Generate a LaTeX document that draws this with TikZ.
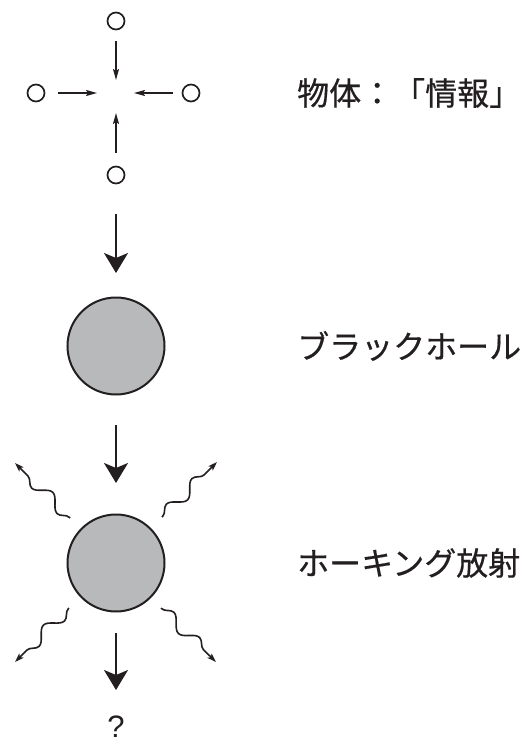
\documentclass[tikz,border=0pt]{standalone}
\usepackage{fontspec}
\newfontfamily\jp[FakeBold=0.5]{Noto Sans CJK JP}
\newfontfamily\qfont{Liberation Sans}
\usetikzlibrary{arrows.meta,decorations.pathmorphing}
\definecolor{bhgray}{HTML}{B8B9BB}
\definecolor{ink}{HTML}{231F20}
\begin{document}
\begin{tikzpicture}[x=1pt,y=-1pt,
  dot/.style={circle,draw=ink,line width=1.7pt,minimum size=17pt,inner sep=0pt},
  hole/.style={circle,draw=ink,fill=bhgray,line width=2pt,minimum size=97pt,inner sep=0pt},
  smallarr/.style={draw=ink,line width=1.5pt,-{Stealth[length=11pt,width=6pt,inset=2pt]}},
  bigarr/.style={draw=ink,line width=2pt,-{Stealth[length=20pt,width=24pt,inset=5pt]}},
  wavearr/.style={draw=ink,line width=1.6pt,-{Stealth[length=9pt,width=6pt,inset=2pt]},
    decorate,decoration={snake,segment length=36pt,amplitude=6pt,pre length=1pt,post length=6pt}},
  label/.style={anchor=west,inner sep=0pt,font=\jp\fontsize{32}{32}\selectfont,text=ink}]
\useasboundingbox (0,0) rectangle (520,744);
% top: objects
\node[dot] (t) at (116,21) {};
\node[dot] (l) at (36,93) {};
\node[dot] (r) at (191,93) {};
\node[dot] (b) at (116,175) {};
\coordinate (ts) at (116,41); \coordinate (te) at (116,80);
\coordinate (ls) at (58,93); \coordinate (le) at (97,93);
\coordinate (rs) at (173,93); \coordinate (re) at (134,93);
\coordinate (bs) at (116,153); \coordinate (be) at (116,113);
\draw[smallarr] (ts) -- (te);
\draw[smallarr] (ls) -- (le);
\draw[smallarr] (rs) -- (re);
\draw[smallarr] (bs) -- (be);
\node[label] (lab1) at (297,93) {物体：「情報」};
% arrow 1
\coordinate (a1s) at (116,214); \coordinate (a1e) at (116,273);
\draw[bigarr] (a1s) -- (a1e);
% black hole
\node[hole] (bh1) at (116,346) {};
\node[label] (lab2) at (297,346) {ブラックホール};
% arrow 2
\coordinate (a2s) at (116,425); \coordinate (a2e) at (116,483);
\draw[bigarr] (a2s) -- (a2e);
% evaporating hole
\node[hole] (bh2) at (116,563) {};
\node[label] (lab3) at (297,563) {ホーキング放射};
\coordinate (w1s) at (70,518); \coordinate (w1e) at (15,463);
\coordinate (w2s) at (162,517); \coordinate (w2e) at (217,462);
\coordinate (w3s) at (69,608); \coordinate (w3e) at (15,662);
\coordinate (w4s) at (161,608); \coordinate (w4e) at (216,662);
\draw[wavearr] (w1s) -- (w1e);
\draw[wavearr] (w2s) -- (w2e);
\draw[wavearr] (w3s) -- (w3e);
\draw[wavearr] (w4s) -- (w4e);
% arrow 3
\coordinate (a3s) at (116,633); \coordinate (a3e) at (116,690);
\draw[bigarr] (a3s) -- (a3e);
\node[font=\qfont\fontsize{31}{31}\selectfont,text=ink,inner sep=0pt] (q) at (116,727) {?};
\end{tikzpicture}
\end{document}
